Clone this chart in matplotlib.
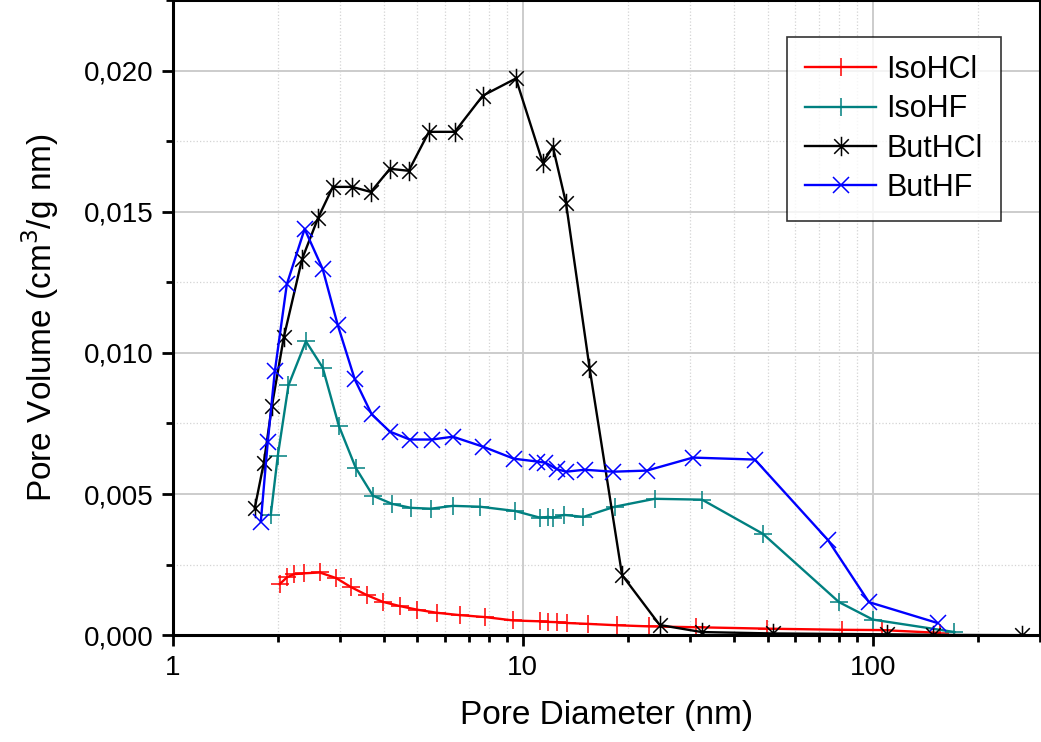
import numpy as np
import matplotlib
matplotlib.use("Agg")
import matplotlib.pyplot as plt
from matplotlib.path import Path
from matplotlib.ticker import FixedLocator, LogLocator, NullFormatter, FuncFormatter, MultipleLocator

# pore size distribution
iso_hcl_d = [2.02, 2.12, 2.22, 2.37, 2.63, 2.93, 3.22, 3.58, 3.98, 4.45, 5.0, 5.7,
             6.6, 7.8, 9.4, 11.2, 11.8, 12.5, 13.4, 15.3, 18.6, 23.0, 31.3, 49.7,
             81.5, 106, 155]
iso_hcl_v = [0.00181, 0.00205, 0.00216, 0.00219, 0.00222, 0.00202, 0.00171, 0.00142,
             0.00118, 0.00103, 0.00090, 0.00079, 0.00071, 0.00064, 0.00052, 0.00049,
             0.00047, 0.00046, 0.00043, 0.00040, 0.00035, 0.00031, 0.00028, 0.00023,
             0.00019, 0.00018, 0.00008]

iso_hf_d = [1.905, 1.995, 2.14, 2.4, 2.68, 2.98, 3.33, 3.73, 4.23, 4.79, 5.46, 6.31,
            7.54, 9.49, 11.2, 11.8, 12.2, 13.1, 14.9, 18.3, 23.8, 32.5, 48.5, 80,
            100, 171]
iso_hf_v = [0.00426, 0.00636, 0.00885, 0.01041, 0.00948, 0.00742, 0.00593, 0.00494,
            0.00465, 0.00451, 0.00448, 0.00458, 0.00455, 0.00440, 0.00416, 0.00419,
            0.00416, 0.00426, 0.00419, 0.00455, 0.00483, 0.00480, 0.00359, 0.00117,
            0.00055, 0.00011]

but_hcl_d = [1.715, 1.82, 1.92, 2.075, 2.34, 2.6, 2.865, 3.25, 3.68, 4.17, 4.72,
             5.39, 6.39, 7.68, 9.55, 11.4, 12.18, 13.28, 15.5, 19.2, 24.6, 32.4,
             51.8, 110, 148, 267]
but_hcl_v = [0.00451, 0.00611, 0.00813, 0.01055, 0.01332, 0.01478, 0.01588, 0.01588,
             0.01570, 0.01652, 0.01645, 0.01783, 0.01783, 0.01911, 0.01972, 0.01673,
             0.01730, 0.01531, 0.00948, 0.00213, 0.00036, 0.00011, 0.00006, 0.00003,
             0.00001, 0.0]

but_hf_d = [1.784, 1.868, 1.956, 2.117, 2.38, 2.68, 2.96, 3.31, 3.7, 4.17, 4.75, 5.5,
            6.31, 7.68, 9.43, 11.0, 11.6, 12.5, 13.3, 15.0, 18.1, 22.6, 30.6, 46.0,
            74.4, 97.4, 153]
but_hf_v = [0.00402, 0.00686, 0.00934, 0.01243, 0.01439, 0.01297, 0.01098, 0.00906,
            0.00782, 0.00721, 0.00693, 0.00693, 0.00703, 0.00668, 0.00625, 0.00615,
            0.00611, 0.00588, 0.00579, 0.00586, 0.00579, 0.00583, 0.00629, 0.00622,
            0.00337, 0.00117, 0.00043]

# origin style asterisk: vertical bar plus an X
star = Path([(0, -1), (0, 1), (-0.75, -0.75), (0.75, 0.75), (-0.75, 0.75), (0.75, -0.75)],
            [Path.MOVETO, Path.LINETO] * 3)

plt.rcParams['font.family'] = ['Liberation Sans', 'DejaVu Sans']

fig = plt.figure(figsize=(10.41, 7.42), dpi=100)
ax = fig.add_axes([0.166, 0.144, 0.833, 0.856])

ax.plot(iso_hcl_d, iso_hcl_v, color='#ff0000', lw=1.7, marker='+', ms=13, mew=1.1, label='IsoHCl')
ax.plot(iso_hf_d, iso_hf_v, color='#008080', lw=1.7, marker='+', ms=13, mew=1.1, label='IsoHF')
ax.plot(but_hcl_d, but_hcl_v, color='black', lw=1.7, marker=star, ms=14, mew=1.1, label='ButHCl')
ax.plot(but_hf_d, but_hf_v, color='#0000ff', lw=1.7, marker='x', ms=12, mew=1.1, label='ButHF')

ax.set_xscale('log')
ax.set_xlim(1, 300)
ax.set_ylim(0, 0.0225)

ax.xaxis.set_major_locator(FixedLocator([1, 10, 100]))
ax.xaxis.set_major_formatter(FuncFormatter(lambda v, p: '%g' % v))
ax.xaxis.set_minor_locator(LogLocator(base=10, subs=np.arange(2, 10)))
ax.xaxis.set_minor_formatter(NullFormatter())
ax.yaxis.set_major_locator(MultipleLocator(0.005))
ax.yaxis.set_minor_locator(MultipleLocator(0.0025))
ax.yaxis.set_major_formatter(FuncFormatter(lambda v, p: ('%.3f' % v).replace('.', ',')))

ax.grid(which='major', color='#cccccc', lw=1.4, ls='-')
ax.grid(which='minor', color='#d4d4d4', lw=0.9, ls=':')
ax.set_axisbelow(True)

for s in ax.spines.values():
    s.set_linewidth(2.2)
ax.tick_params(which='major', direction='out', length=8, width=2, labelsize=20, pad=6)
ax.tick_params(which='minor', direction='out', length=5, width=2)

ax.set_xlabel('Pore Diameter (nm)', fontsize=24, labelpad=14)
ax.set_ylabel('Pore Volume (cm$^3$/g nm)', fontsize=24, labelpad=16)

leg = ax.legend(loc='upper right', bbox_to_anchor=(0.955, 0.942), borderaxespad=0,
                fontsize=22, frameon=True, fancybox=False, edgecolor='black',
                handlelength=2.3, borderpad=0.6, labelspacing=0.3, handletextpad=0.35)
leg.get_frame().set_linewidth(1.2)

fig.savefig('out.png', dpi=100)
